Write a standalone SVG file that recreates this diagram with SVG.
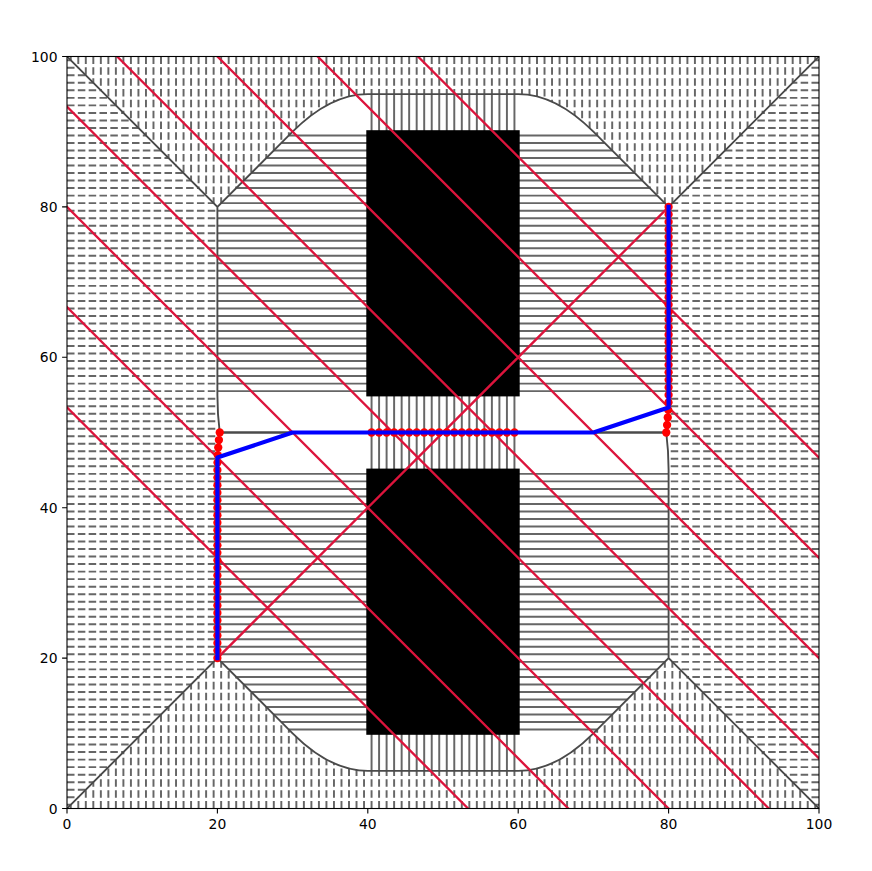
<svg xmlns="http://www.w3.org/2000/svg" xmlns:xlink="http://www.w3.org/1999/xlink" width="872" height="871" viewBox="0 0 872 871">
<style>
.dash{fill:none;stroke:#666;stroke-width:0.26;stroke-dasharray:1 0.44}
.hatch{fill:none;stroke:#666;stroke-width:0.26}
.bnd{fill:none;stroke:#4a4a4a;stroke-width:0.25}
.obst{fill:#000;stroke:#000;stroke-width:0.4}
.red{fill:none;stroke:#DC143C;stroke-width:0.31;stroke-linecap:square}
.route{fill:none;stroke:#0000FF;stroke-width:0.56;stroke-linejoin:round;stroke-linecap:square}
.dot{fill:#FF0000}
.tick{stroke:#000;stroke-width:1.1}
.lbl{font-family:"DejaVu Sans",sans-serif;font-size:13.9px;fill:#000}
</style>
<defs>
<clipPath id="clip"><rect x="0" y="0" width="100" height="100"/></clipPath>
<path id="tq" class="dash" d="M0.5 100V99.5M1.5 100V98.5M2.5 100V97.5M3.5 100V96.5M4.5 100V95.5M5.5 100V94.5M6.5 100V93.5M7.5 100V92.5M8.5 100V91.5M9.5 100V90.5M10.5 100V89.5M11.5 100V88.5M12.5 100V87.5M13.5 100V86.5M14.5 100V85.5M15.5 100V84.5M16.5 100V83.5M17.5 100V82.5M18.5 100V81.5M19.5 100V80.5M20.5 100V80.5M21.5 100V81.5M22.5 100V82.5M23.5 100V83.5M24.5 100V84.5M25.5 100V85.5M26.5 100V86.5M27.5 100V87.5M28.5 100V88.5M29.5 100V89.5M30.5 100V90.49M31.5 100V91.39M32.5 100V92.19M33.5 100V92.89M34.5 100V93.49M35.5 100V93.99M36.5 100V94.39M37.5 100V94.69M38.5 100V94.89M39.5 100V94.99M40.5 100V95M41.5 100V95M42.5 100V95M43.5 100V95M44.5 100V95M45.5 100V95M46.5 100V95M47.5 100V95M48.5 100V95M49.5 100V95"/>
<path id="lq" class="dash" d="M0 0.5H0.5M0 1.5H1.5M0 2.5H2.5M0 3.5H3.5M0 4.5H4.5M0 5.5H5.5M0 6.5H6.5M0 7.5H7.5M0 8.5H8.5M0 9.5H9.5M0 10.5H10.5M0 11.5H11.5M0 12.5H12.5M0 13.5H13.5M0 14.5H14.5M0 15.5H15.5M0 16.5H16.5M0 17.5H17.5M0 18.5H18.5M0 19.5H19.5M0 20.5H20M0 21.5H20M0 22.5H20M0 23.5H20M0 24.5H20M0 25.5H20M0 26.5H20M0 27.5H20M0 28.5H20M0 29.5H20M0 30.5H20M0 31.5H20M0 32.5H20M0 33.5H20M0 34.5H20M0 35.5H20M0 36.5H20M0 37.5H20M0 38.5H20M0 39.5H20M0 40.5H20M0 41.5H20M0 42.5H20M0 43.5H20M0 44.5H20M0 45.5H20M0 46.5H20.03M0 47.5H20.08M0 48.5H20.15M0 49.5H20.25"/>
<path id="hq" class="hatch" d="M29.5 10.5H40M28.5 11.5H40M27.5 12.5H40M26.5 13.5H40M25.5 14.5H40M24.5 15.5H40M23.5 16.5H40M22.5 17.5H40M21.5 18.5H40M20.5 19.5H40M20 20.5H40M20 21.5H40M20 22.5H40M20 23.5H40M20 24.5H40M20 25.5H40M20 26.5H40M20 27.5H40M20 28.5H40M20 29.5H40M20 30.5H40M20 31.5H40M20 32.5H40M20 33.5H40M20 34.5H40M20 35.5H40M20 36.5H40M20 37.5H40M20 38.5H40M20 39.5H40M20 40.5H40M20 41.5H40M20 42.5H40M20 43.5H40M20 44.5H40"/>
<path id="vq" class="hatch" d="M40.5 5V10M41.5 5V10M42.5 5V10M43.5 5V10M44.5 5V10M45.5 5V10M46.5 5V10M47.5 5V10M48.5 5V10M49.5 5V10M50.5 5V10M51.5 5V10M52.5 5V10M53.5 5V10M54.5 5V10M55.5 5V10M56.5 5V10M57.5 5V10M58.5 5V10M59.5 5V10"/>
<path id="bq" class="bnd" d="M0 0L20 20L30 10Q35 5 40 5H50M20 20V45Q20 47.5 20.3125 50H50"/>
</defs>
<rect width="872" height="871" fill="#fff"/>
<g id="plot" transform="matrix(7.52 0 0 -7.52 67 808.5)">
<g clip-path="url(#clip)">
<g id="wall-regions">
<use xlink:href="#tq"/>
<use xlink:href="#tq" transform="matrix(-1 0 0 1 100 0)"/>
<use xlink:href="#tq" transform="matrix(1 0 0 -1 0 100)"/>
<use xlink:href="#tq" transform="matrix(-1 0 0 -1 100 100)"/>
<use xlink:href="#lq"/>
<use xlink:href="#lq" transform="matrix(1 0 0 -1 0 100)"/>
<use xlink:href="#lq" transform="matrix(-1 0 0 1 100 0)"/>
<use xlink:href="#lq" transform="matrix(-1 0 0 -1 100 100)"/>
</g>
<g id="obstacle-regions">
<use xlink:href="#hq"/>
<use xlink:href="#hq" transform="matrix(1 0 0 -1 0 100)"/>
<use xlink:href="#hq" transform="matrix(-1 0 0 1 100 0)"/>
<use xlink:href="#hq" transform="matrix(-1 0 0 -1 100 100)"/>
<use xlink:href="#vq"/>
<use xlink:href="#vq" transform="matrix(1 0 0 -1 0 100)"/>
<path class="hatch" d="M40.5 45V55M41.5 45V55M42.5 45V55M43.5 45V55M44.5 45V55M45.5 45V55M46.5 45V55M47.5 45V55M48.5 45V55M49.5 45V55M50.5 45V55M51.5 45V55M52.5 45V55M53.5 45V55M54.5 45V55M55.5 45V55M56.5 45V55M57.5 45V55M58.5 45V55M59.5 45V55"/>
</g>
<g id="boundaries">
<use xlink:href="#bq"/>
<use xlink:href="#bq" transform="matrix(1 0 0 -1 0 100)"/>
<use xlink:href="#bq" transform="matrix(-1 0 0 1 100 0)"/>
<use xlink:href="#bq" transform="matrix(-1 0 0 -1 100 100)"/>
</g>
<g id="obstacles">
<rect id="obstacle-top" class="obst" x="40" y="55" width="20" height="35"/>
<rect id="obstacle-bottom" class="obst" x="40" y="10" width="20" height="35"/>
</g>
<g id="red-lines">
<path class="red" d="M0 53.333L53.333 0M0 66.667L66.667 0M0 80L80 0M0 93.333L93.333 0M6.667 100L100 6.667M20 100L100 20M33.333 100L100 33.333M46.667 100L100 46.667M20 20L80 80"/>
</g>
<g id="samples" class="dot">
<circle cx="20" cy="20" r="0.55"/><circle cx="20" cy="21" r="0.55"/><circle cx="20" cy="22" r="0.55"/><circle cx="20" cy="23" r="0.55"/><circle cx="20" cy="24" r="0.55"/><circle cx="20" cy="25" r="0.55"/><circle cx="20" cy="26" r="0.55"/><circle cx="20" cy="27" r="0.55"/><circle cx="20" cy="28" r="0.55"/><circle cx="20" cy="29" r="0.55"/><circle cx="20" cy="30" r="0.55"/><circle cx="20" cy="31" r="0.55"/><circle cx="20" cy="32" r="0.55"/><circle cx="20" cy="33" r="0.55"/><circle cx="20" cy="34" r="0.55"/><circle cx="20" cy="35" r="0.55"/><circle cx="20" cy="36" r="0.55"/><circle cx="20" cy="37" r="0.55"/><circle cx="20" cy="38" r="0.55"/><circle cx="20" cy="39" r="0.55"/><circle cx="20" cy="40" r="0.55"/><circle cx="20" cy="41" r="0.55"/><circle cx="20" cy="42" r="0.55"/><circle cx="20" cy="43" r="0.55"/><circle cx="20" cy="44" r="0.55"/><circle cx="20" cy="45" r="0.55"/><circle cx="20.0125" cy="46" r="0.55"/><circle cx="20.05" cy="47" r="0.55"/><circle cx="20.1125" cy="48" r="0.55"/><circle cx="20.2" cy="49" r="0.55"/><circle cx="20.3125" cy="50" r="0.55"/>
<circle cx="40.5" cy="50" r="0.55"/><circle cx="41.5" cy="50" r="0.55"/><circle cx="42.5" cy="50" r="0.55"/><circle cx="43.5" cy="50" r="0.55"/><circle cx="44.5" cy="50" r="0.55"/><circle cx="45.5" cy="50" r="0.55"/><circle cx="46.5" cy="50" r="0.55"/><circle cx="47.5" cy="50" r="0.55"/><circle cx="48.5" cy="50" r="0.55"/><circle cx="49.5" cy="50" r="0.55"/><circle cx="50.5" cy="50" r="0.55"/><circle cx="51.5" cy="50" r="0.55"/><circle cx="52.5" cy="50" r="0.55"/><circle cx="53.5" cy="50" r="0.55"/><circle cx="54.5" cy="50" r="0.55"/><circle cx="55.5" cy="50" r="0.55"/><circle cx="56.5" cy="50" r="0.55"/><circle cx="57.5" cy="50" r="0.55"/><circle cx="58.5" cy="50" r="0.55"/><circle cx="59.5" cy="50" r="0.55"/>
<circle cx="79.6875" cy="50" r="0.55"/><circle cx="79.8" cy="51" r="0.55"/><circle cx="79.8875" cy="52" r="0.55"/><circle cx="79.95" cy="53" r="0.55"/><circle cx="79.9875" cy="54" r="0.55"/><circle cx="80" cy="55" r="0.55"/><circle cx="80" cy="56" r="0.55"/><circle cx="80" cy="57" r="0.55"/><circle cx="80" cy="58" r="0.55"/><circle cx="80" cy="59" r="0.55"/><circle cx="80" cy="60" r="0.55"/><circle cx="80" cy="61" r="0.55"/><circle cx="80" cy="62" r="0.55"/><circle cx="80" cy="63" r="0.55"/><circle cx="80" cy="64" r="0.55"/><circle cx="80" cy="65" r="0.55"/><circle cx="80" cy="66" r="0.55"/><circle cx="80" cy="67" r="0.55"/><circle cx="80" cy="68" r="0.55"/><circle cx="80" cy="69" r="0.55"/><circle cx="80" cy="70" r="0.55"/><circle cx="80" cy="71" r="0.55"/><circle cx="80" cy="72" r="0.55"/><circle cx="80" cy="73" r="0.55"/><circle cx="80" cy="74" r="0.55"/><circle cx="80" cy="75" r="0.55"/><circle cx="80" cy="76" r="0.55"/><circle cx="80" cy="77" r="0.55"/><circle cx="80" cy="78" r="0.55"/><circle cx="80" cy="79" r="0.55"/><circle cx="80" cy="80" r="0.55"/>
</g>
<g id="route">
<path class="route" d="M20 20L20 46.667L30 50L70 50L80 53.333L80 80"/>
</g>
</g>
</g>
<g id="axes">
<rect x="67" y="56.5" width="752" height="752" fill="none" stroke="#000" stroke-width="1.1"/>
<path class="tick" d="M67 808.5v4.9M217.4 808.5v4.9M367.8 808.5v4.9M518.2 808.5v4.9M668.6 808.5v4.9M819 808.5v4.9M67 808.5h-4.9M67 658.1h-4.9M67 507.7h-4.9M67 357.3h-4.9M67 206.9h-4.9M67 56.5h-4.9"/>
<g class="lbl" text-anchor="middle">
<text x="67" y="828.5">0</text><text x="217.4" y="828.5">20</text><text x="367.8" y="828.5">40</text><text x="518.2" y="828.5">60</text><text x="668.6" y="828.5">80</text><text x="819" y="828.5">100</text>
</g>
<g class="lbl" text-anchor="end">
<text x="57.5" y="813.5">0</text><text x="57.5" y="663.1">20</text><text x="57.5" y="512.7">40</text><text x="57.5" y="362.3">60</text><text x="57.5" y="211.9">80</text><text x="57.5" y="61.5">100</text>
</g>
</g>
</svg>
